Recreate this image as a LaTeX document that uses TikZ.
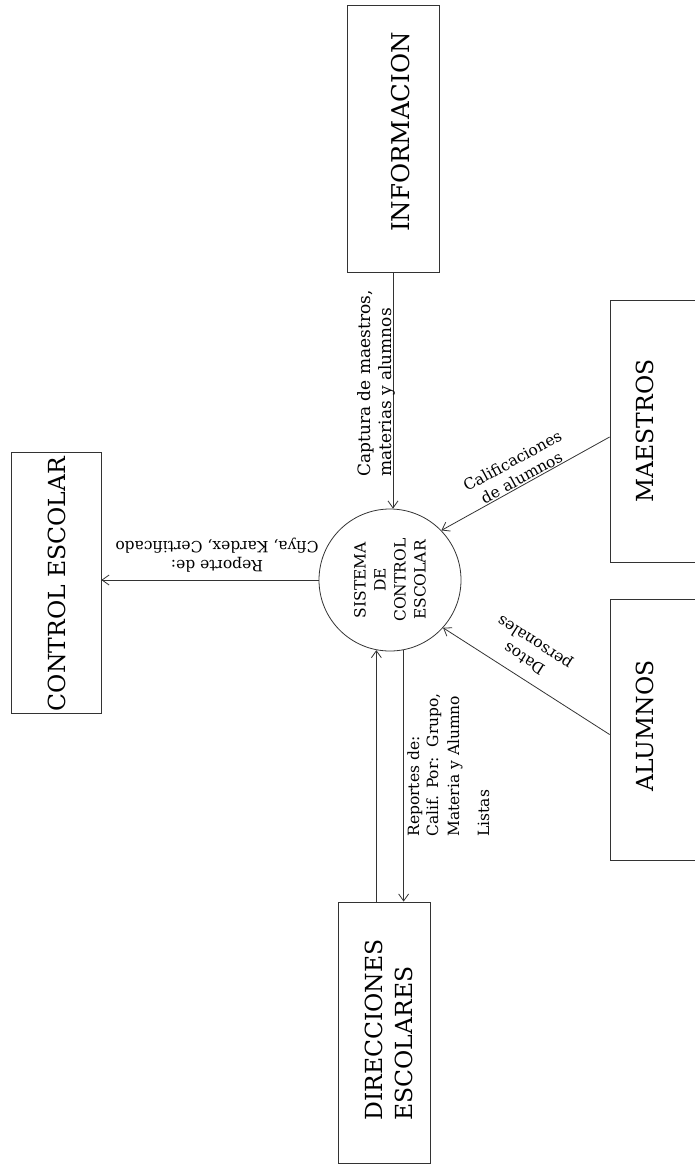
\documentclass[tikz,border=0pt]{standalone}
\usepackage{fontspec}
\setmainfont{DejaVu Serif}
\usetikzlibrary{arrows.meta}
\begin{document}
\begin{tikzpicture}[x=1pt,y=1pt,
  line width=0.8pt,
  arr/.style={draw=black!80, -{Straight Barb[length=7pt,width=10pt,line width=0.8pt]}},
  ebox/.style={draw=black!80, rectangle, inner sep=0pt},
  boxtxt/.style={rotate=90, font=\fontsize{23.5}{30}\selectfont, inner sep=0pt},
  proc/.style={draw=black!80, circle, minimum size=142pt, inner sep=0pt},
  proctxt/.style={rotate=90, align=center, font=\fontsize{15.5}{20}\selectfont, inner sep=0pt},
  lbl/.style={font=\fontsize{15.5}{19}\selectfont, inner sep=0pt}
]
\useasboundingbox (0,0) rectangle (695,-1165);
\clip (0,0) rectangle (695,-1165);
% boxes
\node[ebox, minimum width=92pt, minimum height=267pt] (info) at (393,-138.5) {};
\node[ebox, minimum width=90pt, minimum height=261pt] (ctrl) at (56,-582.5) {};
\node[ebox, minimum width=100pt, minimum height=262pt] (maes) at (660,-431) {};
\node[ebox, minimum width=100pt, minimum height=261pt] (alum) at (660,-729.5) {};
\node[ebox, minimum width=92pt, minimum height=261pt] (dir) at (384,-1032.5) {};
\node[boxtxt, font=\fontsize{24.5}{30}\selectfont] (infotxt) at (401,-132) {INFORMACION};
\node[boxtxt] (ctrltxt) at (57,-584) {CONTROL ESCOLAR};
\node[boxtxt] (maestxt) at (645,-431) {MAESTROS};
\node[boxtxt] (alumtxt) at (645,-726) {ALUMNOS};
\node[boxtxt, align=left] (dirtxt) at (388.5,-1030) {DIRECCIONES\\ESCOLARES};
% process
\node[proc] (sys) at (390,-580) {};
\node[proctxt] (systxt) at (sys) {SISTEMA\\DE\\CONTROL\\ESCOLAR};
% connectors
\draw[arr] (info.south) -- (info.south |- sys.north);
\draw[arr] (sys.west) -- (sys.west -| ctrl.east);
\draw[arr] ([yshift=-6pt]maes.west) -- (sys.44);
\draw[arr] ([yshift=-5pt]alum.west) -- (sys.-42);
\draw[arr] (sys.-101 |- dir.north) -- (sys.-101);
\draw[arr] (sys.-79) -- (sys.-79 |- dir.north);
% labels
\node[lbl, rotate=90, align=left, anchor=north west, font=\fontsize{17}{21}\selectfont] (lcap) at (357,-477) {Captura de maestros,\\materias y alumnos};
\node[lbl, rotate=180, align=center] (lrep) at (217,-555) {Reporte de:\\Cfiya, Kardex, Certificado};
\node[lbl, rotate=28.6, align=center] (lcal) at (517,-469) {Calificaciones\\de alumnos};
\node[lbl, rotate=147.4, align=center] (ldat) at (530,-650) {Datos\\personales};
\node[lbl, rotate=90, align=left, anchor=north west] (lrps) at (407,-837) {Reportes de:\\Calif. Por:\ \ Grupo,\\[2pt]Materia y Alumno\\[11pt]Listas};
\end{tikzpicture}
\end{document}
